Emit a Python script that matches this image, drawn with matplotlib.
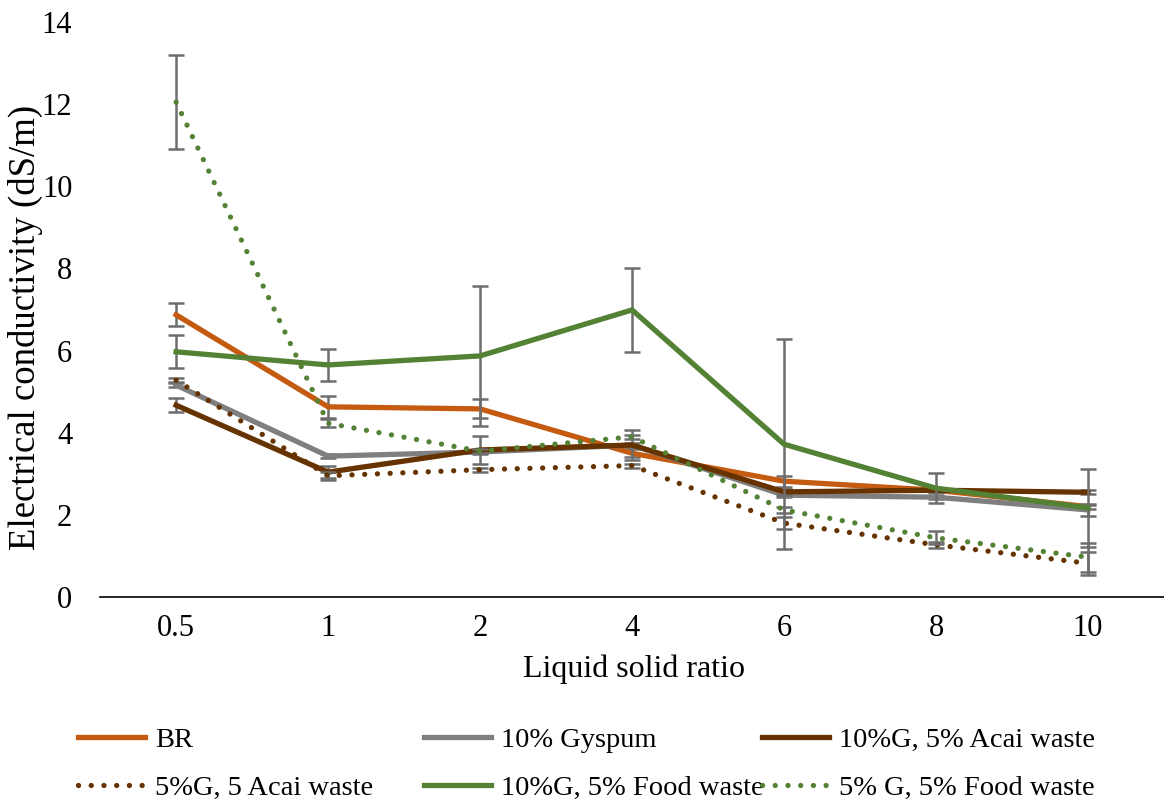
import numpy as np
import matplotlib
matplotlib.use("Agg")
import matplotlib.pyplot as plt

plt.rcParams['font.family'] = ['Liberation Serif', 'DejaVu Serif']

# Data
ratios = ['0.5', '1', '2', '4', '6', '8', '10']

br = [6.87, 4.63, 4.58, 3.50, 2.82, 2.60, 2.20]
br_err = [0.28, 0.27, 0.23, 0.10, 0.13, 0.05, 0.05]

gypsum = [5.16, 3.43, 3.53, 3.70, 2.48, 2.43, 2.12]
gypsum_err = [0.05, 0.05, 0.05, 0.05, 0.05, 0.05, 0.14]

g_acai = [4.67, 3.04, 3.58, 3.70, 2.56, 2.60, 2.55]
g_acai_err = [0.17, 0.15, 0.35, 0.37, 0.08, 0.05, 0.05]

g5_acai = [5.28, 2.95, 3.10, 3.20, 1.80, 1.27, 0.82]
g5_acai_err = [0.05, 0.10, 0.05, 0.05, 0.15, 0.07, 0.28]

g_food = [5.97, 5.65, 5.87, 6.99, 3.72, 2.65, 2.17]
g_food_err = [0.40, 0.40, 1.70, 1.03, 2.55, 0.37, 0.95]

g5_food = [12.05, 4.23, 3.55, 3.90, 2.12, 1.44, 0.97]
g5_food_err = [1.15, 0.10, 0.05, 0.05, 0.08, 0.16, 0.35]

labels = ['BR', '10% Gyspum', '10%G, 5% Acai waste',
          '5%G, 5 Acai waste', '10%G, 5% Food waste', '5% G, 5% Food waste']
colors = ['#C55A11', '#7F7F7F', '#663300', '#663300', '#548235', '#548235']
dotted = [False, False, False, True, False, True]
series = [br, gypsum, g_acai, g5_acai, g_food, g5_food]
errors = [br_err, gypsum_err, g_acai_err, g5_acai_err, g_food_err, g5_food_err]

fig = plt.figure(figsize=(11.64, 8.06), dpi=100)
ax = fig.add_axes([0.086, 0.2593, 0.914, 0.7134])

x = np.arange(len(ratios))
handles = []
for vals, err, col, dot, lab in zip(series, errors, colors, dotted, labels):
    ax.errorbar(x, vals, yerr=err, fmt='none', ecolor='#6d6d6d',
                elinewidth=1.8, capsize=6, capthick=1.8)
    if dot:
        ln, = ax.plot(x, vals, color=col, lw=3.8, linestyle=(0, (0.01, 2.4)),
                      dash_capstyle='round', label=lab)
    else:
        ln, = ax.plot(x, vals, color=col, lw=3.8, label=lab)
    handles.append(ln)

ax.set_xlim(-0.5, 6.5)
ax.set_ylim(0, 14)
ax.set_yticks(range(0, 15, 2))
ax.set_xticks(x)
ax.set_xticklabels(ratios)
ax.tick_params(axis='both', length=0, labelsize=22)
ax.tick_params(axis='x', pad=12)
ax.tick_params(axis='y', pad=20)
for s in ['left', 'right', 'top']:
    ax.spines[s].set_visible(False)
ax.spines['bottom'].set_color('#000000')
ax.spines['bottom'].set_linewidth(1.2)

ax.set_xlabel('Liquid solid ratio', fontsize=23)
ax.xaxis.set_label_coords(0.502, -0.1)
ax.set_ylabel('Electrical conductivity (dS/m)', fontsize=26.5)
ax.yaxis.set_label_coords(-0.054, 0.468)

# legend: three columns placed like the original
col_x = [0.067, 0.364, 0.655]
for i in range(3):
    hs = [handles[i], handles[i + 3]]
    fig.legend(handles=hs, loc='upper left', bbox_to_anchor=(col_x[i], 0.098),
               frameon=False, fontsize=20.5, handlelength=2.35,
               handletextpad=0.35, labelspacing=0.78, borderaxespad=0,
               borderpad=0)

fig.savefig('out.png', dpi=100)
